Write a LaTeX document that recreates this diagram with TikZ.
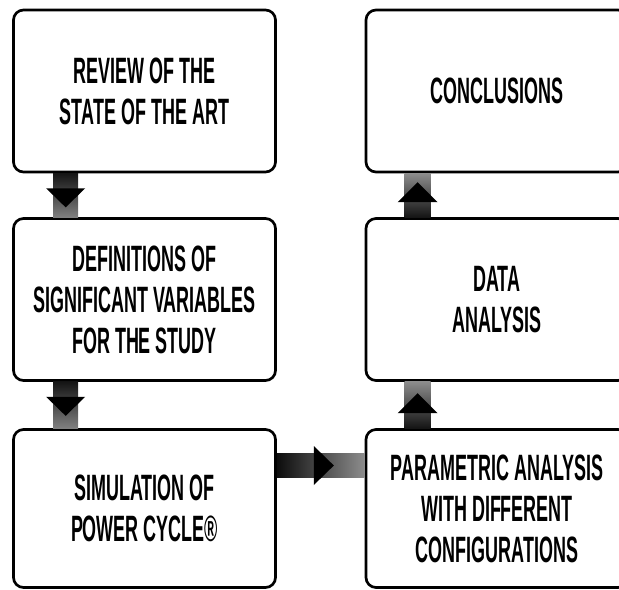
\documentclass[tikz,border=0pt]{standalone}
\usepackage{fontspec}
\newfontfamily\boxfont{Liberation Sans}[FakeStretch=0.49]
\usetikzlibrary{calc}
\tikzset{stage/.style={draw, line width=2pt, rounded corners=7.5pt, fill=white, align=center,
  minimum width=196.5pt, minimum height=121.5pt,
  font=\boxfont\bfseries\fontsize{27.5}{30.75}\selectfont}}

\begin{document}
\begin{tikzpicture}[x=0.75pt,y=-0.75pt]
\useasboundingbox (0,0) rectangle (619,590);

\node[stage] (review) at (144.5,91) {REVIEW OF THE\\STATE OF THE ART};
\node[stage] (defs) at (144.5,299.5) {DEFINITIONS OF\\SIGNIFICANT VARIABLES\\FOR THE STUDY};
\node[stage, minimum height=118.5pt] (sim) at (144.5,508.5) {SIMULATION OF\\POWER CYCLE®};

\node[stage] (concl) at (497,91) {CONCLUSIONS};
\node[stage] (data) at (497,299.5) {DATA\\ANALYSIS};
\node[stage, minimum height=118.5pt] (param) at (497,508.5) {PARAMETRIC ANALYSIS\\WITH DIFFERENT\\CONFIGURATIONS};

% down the left column
\foreach \a/\b in {review/defs, defs/sim}{
  \shade[top color=black!92, bottom color=black!50] ($(\a.south west)+(41,0)$) rectangle ($(\b.north west)+(66,0)$);
  \fill ($(\a.south west)+(34,15)$) -- ++(39,0) -- ++(-19.5,19) -- cycle;
}

% across
\shade[left color=black!95, right color=black!45] ($(sim.east)+(0,-55.5)$) rectangle ($(param.west)+(0,-31.5)$);
\fill ($(sim.east)+(37,-62.5)$) -- ++(0,39) -- ++(20,-19.5) -- cycle;

% up the right column
\foreach \a/\b in {param/data, data/concl}{
  \shade[top color=black!45, bottom color=black!92] ($(\a.north west)+(40,0)$) rectangle ($(\b.south west)+(66,0)$);
  \fill ($(\a.north west)+(33,-15)$) -- ++(40,0) -- ++(-20,-20) -- cycle;
}

\end{tikzpicture}
\end{document}
